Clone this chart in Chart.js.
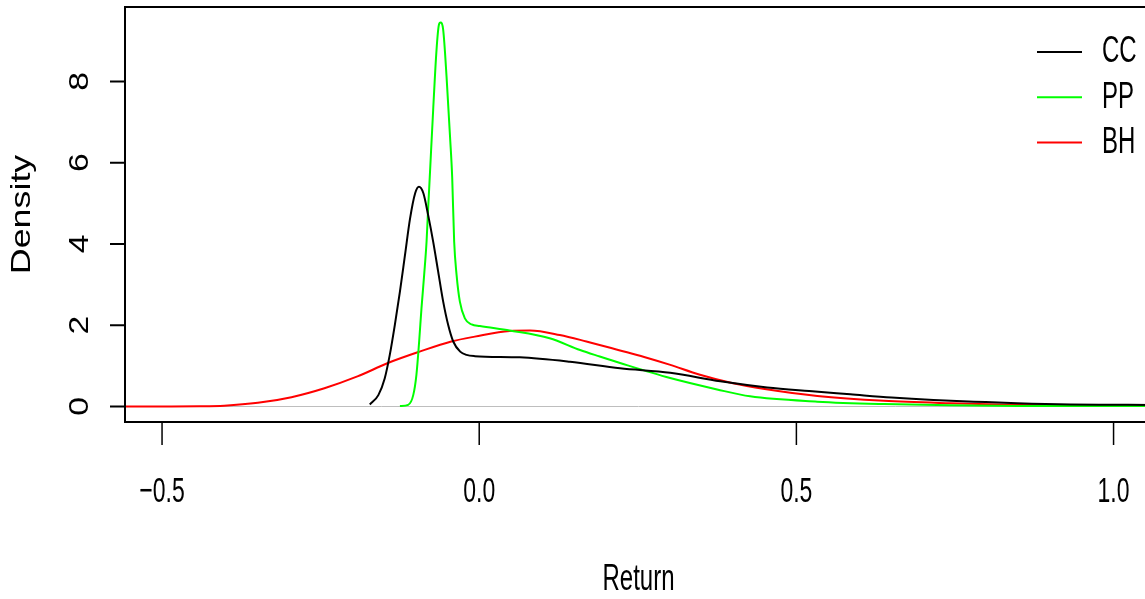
<!DOCTYPE html>
<html>
<head>
<meta charset="utf-8">
<script src="https://cdn.jsdelivr.net/npm/chart.js@4.4.1/dist/chart.umd.min.js"></script>
<style>
  html, body { margin: 0; padding: 0; background: #ffffff; overflow: hidden; }
  canvas { display: block; }
</style>
</head>
<body>
<canvas id="c" width="1152" height="599"></canvas>
<script>
// ---- data ----
const seriesNames = ['CC', 'PP', 'BH'];
const seriesColors = ['#000000', '#00ff00', '#ff0000'];

const ccX = [-0.1725, -0.159, -0.149, -0.141, -0.133, -0.125, -0.117, -0.109, -0.101, -0.095, -0.088, -0.0805, -0.0726, -0.0647, -0.0568, -0.049, -0.041, -0.030, -0.020, -0.007, 0.064, 0.143, 0.222, 0.301, 0.38, 0.454, 0.52, 0.585, 0.65, 0.716, 0.78, 0.848, 0.932, 1.0, 1.06];
const ccY = [0.05, 0.28, 0.69, 1.27, 2.01, 2.83, 3.73, 4.63, 5.25, 5.41, 5.25, 4.71, 4.06, 3.32, 2.58, 2.01, 1.60, 1.35, 1.27, 1.24, 1.21, 1.10, 0.94, 0.83, 0.62, 0.47, 0.38, 0.30, 0.22, 0.16, 0.12, 0.08, 0.05, 0.045, 0.04];

const ppX = [-0.125, -0.112, -0.104, -0.099, -0.0947, -0.091, -0.0868, -0.083, -0.0805, -0.078, -0.0726, -0.0673, -0.0636, -0.061, -0.0568, -0.0515, -0.046, -0.0426, -0.0395, -0.0357, -0.0305, -0.0226, -0.012, 0.001, 0.048, 0.111, 0.159, 0.19, 0.222, 0.301, 0.375, 0.427, 0.533, 0.638, 0.743, 0.85, 1.06];
const ppY = [0.01, 0.04, 0.28, 0.78, 1.60, 2.42, 3.24, 4.06, 4.88, 5.64, 7.30, 8.78, 9.39, 9.45, 9.27, 8.12, 6.64, 5.64, 4.06, 3.24, 2.58, 2.17, 2.02, 1.98, 1.87, 1.68, 1.39, 1.23, 1.07, 0.70, 0.42, 0.25, 0.12, 0.06, 0.03, 0.015, 0.01];

const bhX = [-0.558, -0.50, -0.441, -0.402, -0.349, -0.296, -0.244, -0.192, -0.144, -0.094, -0.044, -0.007, 0.048, 0.080, 0.127, 0.169, 0.222, 0.26, 0.30, 0.348, 0.40, 0.45, 0.533, 0.638, 0.743, 0.848, 0.95, 1.06];
const bhY = [0.0, 0.001, 0.005, 0.02, 0.09, 0.23, 0.45, 0.74, 1.07, 1.35, 1.60, 1.72, 1.86, 1.87, 1.76, 1.60, 1.38, 1.22, 1.03, 0.78, 0.57, 0.43, 0.26, 0.14, 0.08, 0.04, 0.03, 0.02];

const xTicks = [-0.5, 0.0, 0.5, 1.0];
const xTickLabels = ['\u22120.5', '0.0', '0.5', '1.0'];
const yTicks = [0, 2, 4, 6, 8];
const yTickLabels = ['0', '2', '4', '6', '8'];
const xTitle = 'Return';
const yTitle = 'Density';

// ---- build datasets ----
const zip = (xs, ys) => xs.map((v, i) => ({ x: v, y: ys[i] }));
const seriesData = [zip(ccX, ccY), zip(ppX, ppY), zip(bhX, bhY)];
const datasets = seriesNames.map((name, i) => ({
  label: name,
  data: seriesData[i],
  borderColor: seriesColors[i],
  backgroundColor: seriesColors[i],
  borderWidth: 2,
  pointRadius: 0,
  fill: false,
  cubicInterpolationMode: 'monotone'
}));

const FONT = '"Liberation Sans", Arial, Helvetica, sans-serif';

function stretchedText(ctx, text, x, y, size, sy, rotate, align) {
  ctx.save();
  ctx.translate(x, y);
  ctx.scale(1, sy);
  if (rotate) ctx.rotate(-Math.PI / 2);
  ctx.font = size + 'px ' + FONT;
  ctx.textAlign = align || 'center';
  ctx.textBaseline = 'middle';
  ctx.fillStyle = '#000';
  ctx.fillText(text, 0, 0);
  ctx.restore();
}

const rAxes = {
  id: 'rAxes',
  beforeDatasetsDraw(chart) {
    const { ctx, chartArea: a, scales: { y } } = chart;
    const y0 = y.getPixelForValue(0);
    ctx.save();
    ctx.strokeStyle = '#bebebe';
    ctx.lineWidth = 1;
    ctx.beginPath();
    ctx.moveTo(a.left, y0);
    ctx.lineTo(a.right, y0);
    ctx.stroke();
    ctx.restore();
  },
  afterDatasetsDraw(chart) {
    const { ctx, chartArea: a, scales: { x, y } } = chart;
    ctx.save();
    // box
    ctx.strokeStyle = '#000';
    ctx.lineWidth = 2;
    ctx.strokeRect(a.left, a.top, a.right - a.left, a.bottom - a.top);
    // x axis ticks + labels
    ctx.lineWidth = 1.5;
    xTicks.forEach((v, i) => {
      const px = x.getPixelForValue(v);
      ctx.beginPath();
      ctx.moveTo(px, a.bottom);
      ctx.lineTo(px, a.bottom + 23);
      ctx.stroke();
      stretchedText(ctx, xTickLabels[i], px, a.bottom + 70, 23, 1.55, false);
    });
    // y axis ticks + labels
    ctx.lineWidth = 2;
    yTicks.forEach((v, i) => {
      const py = y.getPixelForValue(v);
      ctx.beginPath();
      ctx.moveTo(a.left - 15, py);
      ctx.lineTo(a.left, py);
      ctx.stroke();
      stretchedText(ctx, yTickLabels[i], a.left - 45, py, 28, 1.2, true);
    });
    // titles
    stretchedText(ctx, xTitle, (a.left + a.right) / 2, a.bottom + 158, 24, 1.55, false);
    stretchedText(ctx, yTitle, 22, (a.top + a.bottom) / 2, 28, 1.28, true);
    // legend
    chart.data.datasets.forEach((ds, i) => {
      const ly = 52 + i * 45.3;
      ctx.strokeStyle = ds.borderColor;
      ctx.lineWidth = 2;
      ctx.beginPath();
      ctx.moveTo(1037, ly);
      ctx.lineTo(1082, ly);
      ctx.stroke();
      stretchedText(ctx, ds.label, 1102, ly, 24, 1.55, false, 'left');
    });
    ctx.restore();
  }
};

new Chart(document.getElementById('c'), {
  type: 'line',
  data: { datasets },
  options: {
    responsive: false,
    animation: false,
    devicePixelRatio: 1,
    layout: { padding: { left: 125, top: 7, right: 0, bottom: 177 } },
    scales: {
      x: { type: 'linear', min: -0.5584, max: 1.0606, display: false },
      y: { type: 'linear', min: -0.3815, max: 9.834, display: false }
    },
    plugins: {
      legend: { display: false },
      tooltip: { enabled: false }
    }
  },
  plugins: [rAxes]
});
</script>
</body>
</html>
